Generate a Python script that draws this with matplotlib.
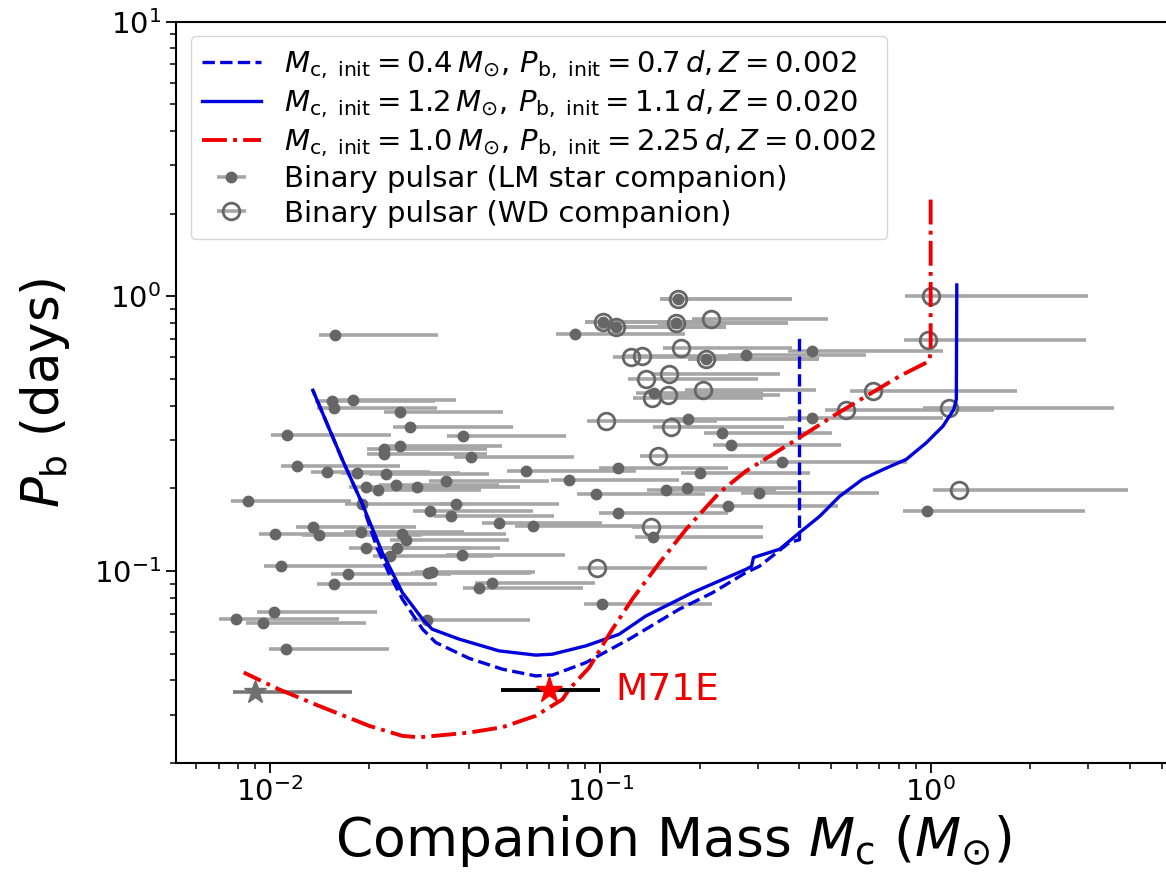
import numpy as np
import matplotlib.pyplot as plt

# binary pulsars, low-mass star companions: Mc, Pb (days), Mc range
lm_mc = [0.0158, 0.0154, 0.0178, 0.0156, 0.0248, 0.0265, 0.0113, 0.0385, 0.0221, 0.0221,
         0.0247, 0.0407, 0.0121, 0.0149, 0.0184, 0.0225, 0.0342, 0.0196, 0.0213, 0.0241,
         0.0278, 0.00858, 0.0365, 0.0190, 0.0305, 0.0353, 0.0494, 0.0135, 0.0104, 0.0141,
         0.0189, 0.0252, 0.0259, 0.0196, 0.0242, 0.0231, 0.0383, 0.0108, 0.0172, 0.0301,
         0.0310, 0.0156, 0.0469, 0.0431, 0.0103, 0.00791, 0.00953, 0.0300, 0.0112,
         0.0836, 0.145, 0.277, 0.437, 0.185, 0.437, 0.234, 0.249, 0.356, 0.0595,
         0.113, 0.200, 0.0807, 0.0968, 0.158, 0.183, 0.303, 0.244, 0.113, 0.0628,
         0.144, 0.1016, 0.977,
         0.172, 0.102, 0.112, 0.170, 0.209]
lm_pb = [0.726, 0.415, 0.418, 0.393, 0.380, 0.335, 0.314, 0.310, 0.277, 0.266,
         0.285, 0.259, 0.242, 0.229, 0.228, 0.226, 0.212, 0.202, 0.198, 0.205,
         0.202, 0.180, 0.176, 0.176, 0.165, 0.158, 0.150, 0.145, 0.136, 0.135,
         0.139, 0.136, 0.130, 0.121, 0.121, 0.113, 0.114, 0.104, 0.0973, 0.0980,
         0.0992, 0.0894, 0.0908, 0.0867, 0.0710, 0.0666, 0.0649, 0.0662, 0.0519,
         0.731, 0.445, 0.612, 0.631, 0.359, 0.362, 0.319, 0.287, 0.250, 0.232,
         0.237, 0.228, 0.214, 0.191, 0.197, 0.200, 0.192, 0.172, 0.162, 0.146,
         0.133, 0.0757, 0.165,
         0.978, 0.807, 0.771, 0.798, 0.589]
lm_lo = [0.0141, 0.0137, 0.0158, 0.0139, 0.0221, 0.0236, 0.0101, 0.0343, 0.0197, 0.0197,
         0.0220, 0.0362, 0.0108, 0.0133, 0.0164, 0.0200, 0.0304, 0.0174, 0.0190, 0.0214,
         0.0247, 0.00764, 0.0325, 0.0169, 0.0271, 0.0314, 0.0440, 0.0120, 0.00926, 0.0125,
         0.0168, 0.0224, 0.0231, 0.0174, 0.0215, 0.0206, 0.0341, 0.00961, 0.0153, 0.0268,
         0.0276, 0.0139, 0.0417, 0.0384, 0.00917, 0.00704, 0.00848, 0.0267, 0.00997,
         0.0736, 0.128, 0.244, 0.37, 0.163, 0.37, 0.206, 0.219, 0.305, 0.0524,
         0.0994, 0.176, 0.0710, 0.0852, 0.139, 0.161, 0.267, 0.215, 0.0994, 0.0553,
         0.127, 0.0894, 0.825,
         0.152, 0.0898, 0.0986, 0.150, 0.184]
lm_hi = [0.0324, 0.0316, 0.0365, 0.0320, 0.0508, 0.0543, 0.0232, 0.0789, 0.0453, 0.0453,
         0.0506, 0.0834, 0.0248, 0.0305, 0.0377, 0.0461, 0.0701, 0.0402, 0.0437, 0.0494,
         0.0570, 0.0176, 0.0748, 0.0390, 0.0625, 0.0724, 0.1013, 0.0277, 0.0213, 0.0289,
         0.0387, 0.0517, 0.0531, 0.0402, 0.0496, 0.0474, 0.0785, 0.0221, 0.0353, 0.0617,
         0.0636, 0.0320, 0.0961, 0.0884, 0.0211, 0.0162, 0.0195, 0.0615, 0.0230,
         0.180, 0.312, 0.637, 1.09, 0.398, 1.09, 0.503, 0.535, 0.85, 0.128,
         0.243, 0.430, 0.1735, 0.208, 0.340, 0.393, 0.70, 0.525, 0.243, 0.135,
         0.310, 0.218, 2.93,
         0.381, 0.22, 0.24, 0.37, 0.46]

# binary pulsars, white dwarf companions
wd_mc = [0.172, 0.102, 0.112, 0.170, 0.216, 0.209, 0.176, 0.124, 0.134, 0.138,
         0.161, 0.160, 0.143, 0.204, 0.104, 0.164, 0.150, 0.142, 0.0975,
         1.0, 0.984, 0.669, 0.556, 1.134, 1.218]
wd_pb = [0.978, 0.807, 0.771, 0.798, 0.830, 0.589, 0.647, 0.600, 0.605, 0.501,
         0.520, 0.439, 0.427, 0.457, 0.353, 0.334, 0.262, 0.145, 0.1025,
         1.0, 0.696, 0.452, 0.385, 0.392, 0.197]
wd_lo = [0.152, 0.0898, 0.0986, 0.150, 0.190, 0.184, 0.155, 0.109, 0.118, 0.121,
         0.142, 0.141, 0.126, 0.180, 0.0915, 0.144, 0.132, 0.125, 0.0858,
         0.834, 0.83, 0.571, 0.478, 0.946, 1.014]
wd_hi = [0.381, 0.22, 0.24, 0.37, 0.488, 0.46, 0.38, 0.27, 0.29, 0.30,
         0.35, 0.35, 0.31, 0.45, 0.225, 0.36, 0.33, 0.31, 0.21,
         2.99, 2.95, 1.82, 1.55, 3.58, 3.95]

# evolutionary tracks
trk1_mc = [0.401, 0.401, 0.374, 0.303, 0.276, 0.219, 0.1735, 0.1224, 0.0905, 0.0717,
           0.0638, 0.0506, 0.0401, 0.0318, 0.0290, 0.0252, 0.0229, 0.0211, 0.0190,
           0.01656, 0.0135]
trk1_pb = [0.70, 0.130, 0.127, 0.104, 0.0987, 0.0834, 0.0726, 0.0565, 0.0464, 0.0418,
           0.0415, 0.0439, 0.0481, 0.0549, 0.0614, 0.0789, 0.0987, 0.1216, 0.177,
           0.255, 0.455]

trk2_mc = [1.20, 1.196, 1.174, 1.090, 0.970, 0.844, 0.717, 0.623, 0.530, 0.461,
           0.401, 0.349, 0.291, 0.287, 0.276, 0.190, 0.1375, 0.114, 0.0905, 0.0717,
           0.0638, 0.0494, 0.0374, 0.0310, 0.0290, 0.0252, 0.0219, 0.0190, 0.01656, 0.0135]
trk2_pb = [1.10, 0.421, 0.387, 0.337, 0.293, 0.255, 0.234, 0.216, 0.187, 0.158,
           0.138, 0.120, 0.112, 0.104, 0.1014, 0.0834, 0.0686, 0.0588, 0.0534, 0.0498,
           0.0494, 0.0512, 0.0565, 0.0614, 0.0668, 0.0834, 0.1167, 0.177, 0.255, 0.455]

trk3_mc = [1.0, 1.0, 0.988, 0.805, 0.638, 0.506, 0.401, 0.276, 0.2295, 0.182,
           0.151, 0.125, 0.108, 0.0926, 0.0805, 0.0769, 0.0638, 0.0506, 0.0401, 0.0283,
           0.0252, 0.0200, 0.01407, 0.01065, 0.00834]
trk3_pb = [2.25, 0.622, 0.580, 0.512, 0.433, 0.366, 0.306, 0.231, 0.193, 0.142,
           0.107, 0.0789, 0.0605, 0.0445, 0.0371, 0.0341, 0.0297, 0.0270, 0.0258, 0.0248,
           0.0251, 0.0273, 0.0323, 0.0371, 0.0427]

# M71E and the other star
m71e_mc, m71e_pb, m71e_lo, m71e_hi = 0.07, 0.0369, 0.0502, 0.100
star_mc, star_pb, star_lo, star_hi = 0.0090, 0.0363, 0.00773, 0.0177

lm_mc = np.array(lm_mc); lm_lo = np.array(lm_lo); lm_hi = np.array(lm_hi)
wd_mc = np.array(wd_mc); wd_lo = np.array(wd_lo); wd_hi = np.array(wd_hi)

fig = plt.figure(figsize=(11.66, 8.77), dpi=100)
ax = fig.add_axes([0.1509, 0.130, 0.8525, 0.8453])

h_lm = ax.errorbar(lm_mc, lm_pb, xerr=[lm_mc - lm_lo, lm_hi - lm_mc], fmt='o',
                   color='#666666', ecolor='#a6a6a6', elinewidth=2.6, ms=7.5,
                   label='Binary pulsar (LM star companion)')
h_wd = ax.errorbar(wd_mc, wd_pb, xerr=[wd_mc - wd_lo, wd_hi - wd_mc], fmt='o',
                   mfc='none', mec='#666666', mew=2, ms=12, ecolor='#a6a6a6',
                   elinewidth=2.6, label='Binary pulsar (WD companion)')

ax.errorbar([star_mc], [star_pb], xerr=[[star_mc - star_lo], [star_hi - star_mc]],
            fmt='*', color='#707070', ecolor='#777777', elinewidth=2.6, ms=17)

l1, = ax.plot(trk1_mc, trk1_pb, '--', color='#0000dd', lw=2.4, zorder=5,
              label=r'$M_{\rm c,\ init}=0.4\,M_{\odot},\,P_{\rm b,\ init}=0.7\,d, Z=0.002$')
l2, = ax.plot(trk2_mc, trk2_pb, '-', color='#0000dd', lw=2.4, zorder=5,
              label=r'$M_{\rm c,\ init}=1.2\,M_{\odot},\,P_{\rm b,\ init}=1.1\,d, Z=0.020$')
l3, = ax.plot(trk3_mc, trk3_pb, '-.', color='#ee0000', lw=2.8, zorder=6,
              label=r'$M_{\rm c,\ init}=1.0\,M_{\odot},\,P_{\rm b,\ init}=2.25\,d, Z=0.002$')

ax.errorbar([m71e_mc], [m71e_pb], xerr=[[m71e_mc - m71e_lo], [m71e_hi - m71e_mc]],
            fmt='*', color='red', ecolor='black', elinewidth=2.8, ms=20, zorder=7)
ax.text(0.111, 0.0369, 'M71E', color='#ee0000', fontsize=27, va='center', zorder=7)

ax.set_xscale('log')
ax.set_yscale('log')
ax.set_xlim(0.0052, 5.3)
ax.set_ylim(0.02, 10)

ax.tick_params(which='major', labelsize=21, length=7, width=1.3)
ax.tick_params(which='minor', length=4, width=1.1)
for s in ax.spines.values():
    s.set_linewidth(1.5)

ax.set_xlabel(r'Companion Mass $M_{\rm c}$ ($M_{\odot}$)', fontsize=38.5)
ax.set_ylabel(r'$P_{\rm b}$ (days)', fontsize=37, labelpad=16)

ax.legend(handles=[l1, l2, l3, h_lm, h_wd], loc='upper left', fontsize=21,
          labelspacing=0.22, borderaxespad=0.5)

fig.savefig('out.png', dpi=100)
